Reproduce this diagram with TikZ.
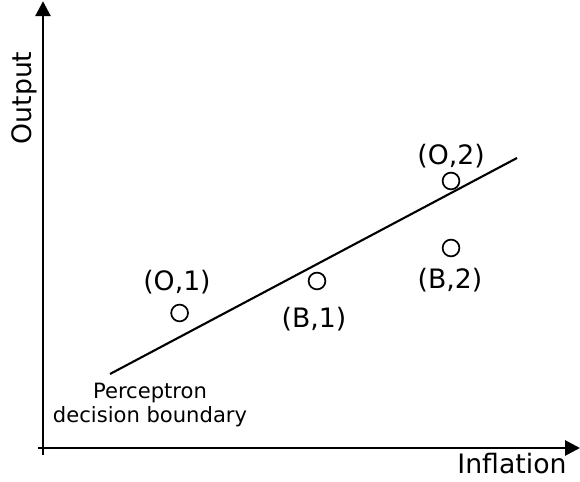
\documentclass[tikz,border=0pt]{standalone}
\usepackage{fontspec}
\setmainfont{DejaVu Sans}
\usepackage{tikz}
\usetikzlibrary{arrows.meta, positioning}
\tikzset{
  axis/.style={line width=2pt, -{Triangle[length=0.375cm, width=0.375cm]}},
  sample/.style={circle, draw, line width=1.2pt, minimum size=0.42cm, inner sep=0pt},
  tag/.style={font=\fontsize{19}{22}\selectfont, inner sep=0pt},
  boundary/.style={line width=1.5pt}
}

\begin{document}
\begin{tikzpicture}
  \useasboundingbox (0,0) rectangle (14.5,12.05);

  % Axes
  \coordinate (origin) at (1.075,0.85);
  \coordinate (ybottom) at (1.075,0.675);
  \coordinate (ytop) at (1.075,12.02);
  \coordinate (xleft) at (0.95,0.85);
  \coordinate (xright) at (14.5,0.85);
  \draw[axis] (ybottom) -- (ytop);
  \draw[axis] (xleft) -- (xright);
  \node[tag] (inflation) at (12.8,0.47) {Inflation};
  \node[tag, rotate=90] (output) at (0.62,9.6) {Output};

  % Decision boundary
  \coordinate (bstart) at (2.75,2.7);
  \coordinate (bend) at (12.925,8.1);
  \draw[boundary] (bstart) -- (bend);
  \node[align=center, font=\fontsize{15}{17}\selectfont, inner sep=0pt] (perceptron) at (3.75,1.93)
    {Perceptron\\decision boundary};

  % Samples
  \node[sample] (o1) at (4.49,4.225) {};
  \node[sample] (b1) at (7.925,5.025) {};
  \node[sample] (o2) at (11.275,7.525) {};
  \node[sample] (b2) at (11.275,5.85) {};
  \node[tag] (o1lbl) at (4.425,5.0) {(O,1)};
  \node[tag] (b1lbl) at (7.85,4.08) {(B,1)};
  \node[tag] (o2lbl) at (11.275,8.15) {(O,2)};
  \node[tag] (b2lbl) at (11.25,5.05) {(B,2)};
\end{tikzpicture}
\end{document}
